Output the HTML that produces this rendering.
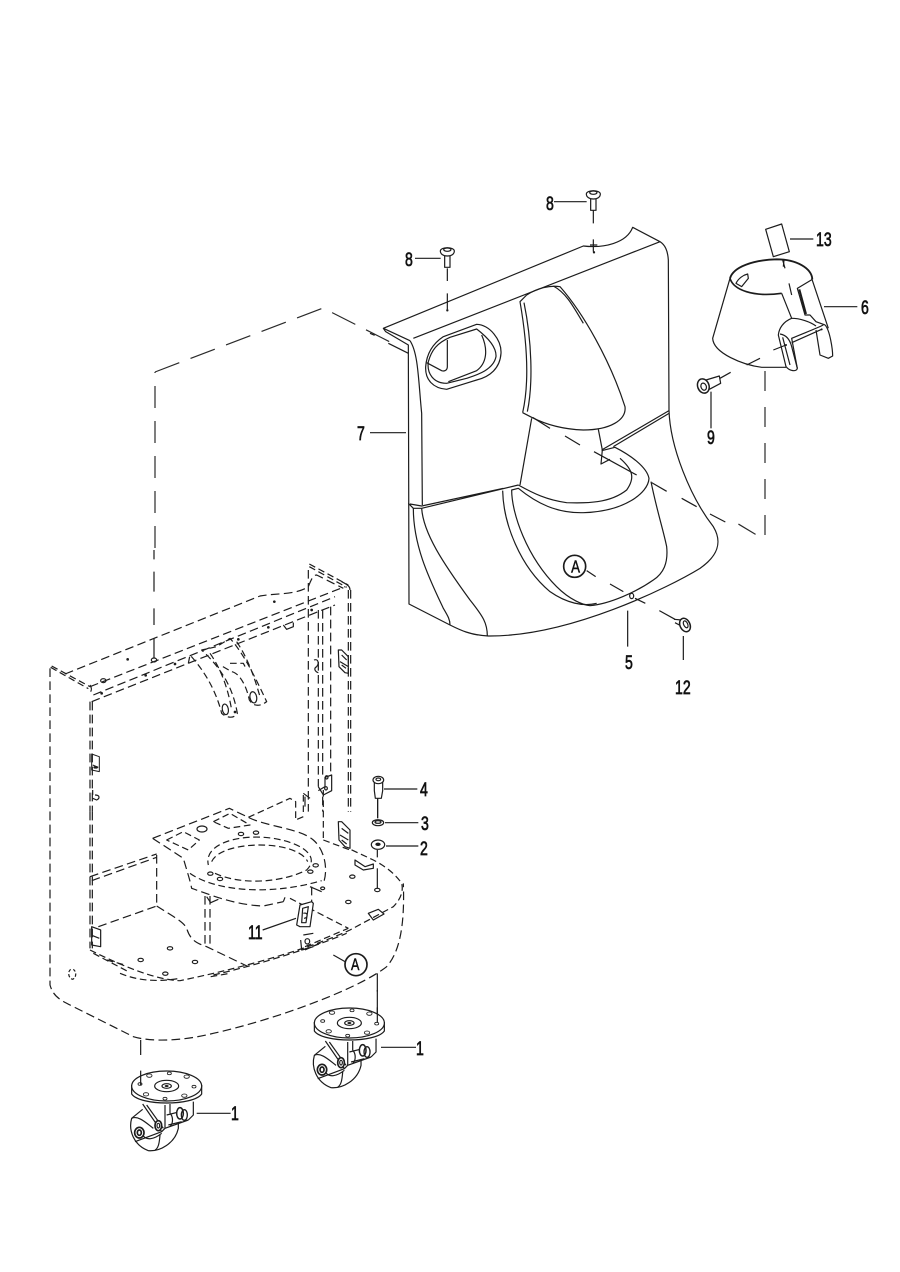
<!DOCTYPE html>
<html><head><meta charset="utf-8"><title>Parts diagram</title>
<style>
html,body{margin:0;padding:0;background:#fff}
svg{display:block}
.z{fill:none;stroke:#1c1c1c;stroke-width:3.6;stroke-linejoin:round;stroke-linecap:butt}
.e{stroke-dasharray:26 13}
.f{stroke-dasharray:20 11}
.w{fill:#fff}
.k{fill:#1c1c1c;stroke:none}
.t{fill:none;stroke:#2a2a2a;stroke-width:1.2}
text{font-family:"Liberation Sans",sans-serif;font-size:19px;fill:#111;stroke:#111;stroke-width:.7}
</style></head><body>
<svg width="900" height="1272" viewBox="0 0 900 1272" xmlns="http://www.w3.org/2000/svg">
<rect width="900" height="1272" fill="#fff"/>

<!-- long phantom line -->
<path class="t" stroke-dasharray="22 13" d="M155,548V372"/>
<path class="t" stroke-dasharray="26 12" d="M155,372L323,308L400,347"/>

<!-- PANEL -->
<g transform="translate(370,180) scale(.33333)">
<path class="z w" d="M40,445L640,198C700,205 770,190 788,142L870,185C885,195 893,210 895,240L897,690C900,800 960,950 1030,1040C1060,1090 1040,1130 990,1165C900,1220 600,1370 355,1368C300,1365 270,1350 240,1335L117,1272L115,495L47,455Z"/>
<path class="z" d="M130,475L870,185M40,445L120,482M120,482C145,520 145,600 155,700L157,975"/>
<path class="z" d="M115,970L130,985L155,985L445,915M120,972L155,978L400,925"/>
<path class="z" d="M695,810L897,692M730,800L897,700"/>
<path class="z" d="M470,345C500,325 540,315 570,320C640,400 720,540 765,680C770,720 720,750 640,750C580,748 530,735 485,712L458,698"/>
<path class="z" d="M470,345L450,365C470,480 480,600 458,698M462,368C485,480 490,610 472,695M550,318C590,340 610,380 640,430"/>
<path class="z" d="M485,715L450,915M685,748L697,810L693,852L720,838"/>
<path class="z" d="M695,812L735,802C780,825 830,860 837,895C835,940 760,995 640,998C560,1000 500,970 445,925L425,930C425,1000 470,1130 560,1220C600,1260 640,1275 660,1277C720,1272 800,1235 850,1200C880,1180 895,1150 890,1100C880,1050 860,990 843,905"/>
<path class="z" d="M750,835C790,870 795,895 770,930C720,970 650,970 590,968C530,960 490,940 445,915"/>
<path class="z" d="M398,932C400,1030 450,1160 540,1235C590,1270 640,1280 680,1270"/>
<path class="z" d="M130,985C130,1100 180,1200 220,1285C235,1310 240,1320 240,1335M155,985C160,1060 220,1150 300,1260C340,1310 352,1330 352,1368"/>
<path class="z" d="M320,433C360,435 395,480 393,520C390,565 360,590 320,600L230,628C190,625 165,600 167,560C170,520 190,490 220,470Z"/>
<path class="z" d="M320,447C350,470 380,500 378,530C370,570 320,585 290,595L230,610C190,610 170,580 175,545C185,510 200,490 240,472Z"/>
<path class="z" d="M335,465C355,510 350,550 320,572L235,605"/>
<path class="z" d="M232,480V560C232,570 225,575 215,572L170,548M55,490L115,520M0,460L14,466"/>
<path class="z" d="M488,712L540,745M585,768L630,795M672,815L800,885M845,908L890,934M935,955L980,980M1020,1002L1066,1026"/>
<path class="z" d="M650,1172L677,1190M720,1212L760,1235M795,1255L826,1270M868,1292L915,1318"/>
<circle class="k" cx="232" cy="391" r="3.5"/><circle class="k" cx="672" cy="217" r="3.5"/>
<path class="z" d="M232,265V303M232,340V388M670,90V130M670,178V215M660,195H682"/>
<ellipse class="z" cx="785" cy="1248" rx="6" ry="8"/>
<path class="z" d="M773,1292V1400M940,1368V1440"/>
<g class="z"><path d="M224,225V262H240V225"/><path class="w" d="M211,213C212,200 252,200 253,213C253,222 245,228 232,228C220,228 211,222 211,213Z"/><ellipse cx="232" cy="209" rx="11" ry="5"/></g>
<g class="z"><path d="M662,54V91H678V54"/><path class="w" d="M649,42C650,29 690,29 691,42C691,51 683,57 670,57C658,57 649,51 649,42Z"/><ellipse cx="670" cy="38" rx="11" ry="5"/></g>
<path class="z" d="M135,235H212M552,65H650"/>
<path class="z" d="M912,1318L935,1320M915,1328L928,1335"/>
<ellipse class="z w" cx="945" cy="1335" rx="15" ry="21" transform="rotate(-25 945 1335)" style="stroke-width:4.5"/>
<ellipse class="z" cx="947" cy="1333" rx="6" ry="11" transform="rotate(-25 947 1333)"/>
<circle class="z" cx="614" cy="1159" r="33" style="stroke-width:5"/>
<text x="599" y="1178" style="font-size:54px;stroke-width:1.5" transform="translate(160 0) scale(.74 1)">A</text>
<path class="z" d="M0,758H108"/>
</g>

<!-- CONE -->
<g transform="translate(680,210) scale(.33333)">
<path class="z" d="M257,58L305,42L328,125L280,140Z"/>
<path class="z" d="M330,87H400"/>
<path class="z" d="M308,150L315,175M432,290H532"/>
<ellipse class="z w" cx="70" cy="528" rx="17" ry="22" transform="rotate(-20 70 528)" style="stroke-width:4.5"/>
<ellipse class="z" cx="71" cy="530" rx="8" ry="11" transform="rotate(-20 71 530)"/>
<path class="z" d="M78,510L118,498L122,520L88,538M120,505L152,487"/>
<path class="z" d="M93,545V655"/>
</g>
<g transform="translate(710,250) scale(.33333)">
<path class="z" d="M60,85C70,50 130,30 200,28C260,28 305,55 307,88" style="stroke-width:5.5"/>
<path class="z" d="M60,85C70,120 130,142 215,130" style="stroke-width:5"/>
<path class="z" d="M60,85L8,265C10,310 100,345 155,352L228,352"/>
<path class="z" d="M215,130L245,205C220,215 207,235 205,255L228,350C240,365 260,365 262,355L245,265C280,250 320,235 340,225"/>
<path class="z" d="M307,88L262,115L285,195H300L318,215L345,225C360,240 368,300 368,318L355,325L330,315L318,240"/>
<path class="z" d="M305,85L355,235"/>
<path class="z" d="M245,205C270,205 300,215 318,228"/>
<path class="z" d="M210,252C230,255 240,270 245,290L262,355M218,262L240,345"/>
<path class="z" style="stroke-width:6" d="M268,118L288,192"/>
<path class="z" d="M78,100C85,85 100,75 113,72L115,85L95,110Z"/>
<path class="z" d="M222,30L220,50M237,100L245,135M190,300L228,285M245,278L335,238M110,345L150,325"/>
<circle class="k" cx="228" cy="285" r="3"/><circle class="k" cx="335" cy="238" r="3"/>
</g>
<path class="t" stroke-dasharray="20 16" d="M765,371V540L725,516"/>

<!-- FRAME UPPER -->
<g transform="translate(40,550) scale(.33333)">
<path class="z e" d="M75,372L660,138C700,130 770,135 805,110C815,85 820,75 830,75L910,115"/>
<path class="z e" d="M150,410L915,110M160,435L885,140M155,455L885,165"/>
<path class="z f" d="M35,348L150,410M32,352L145,416M808,42L925,105M808,50L920,112"/>
<path class="z e" d="M30,355V785M150,455V785M157,455V785M805,60V785M925,120V785M932,120V785M835,180V710M848,180V675M872,170V675M848,740V785"/>
<path class="z" d="M150,405C155,412 155,420 152,425M905,95C925,105 930,110 930,120"/>
<path class="z" d="M342,0V28M342,65V125M342,175V225M342,265V325"/>
<ellipse class="z" cx="342" cy="330" rx="8" ry="6"/>
<ellipse class="z" cx="190" cy="392" rx="8" ry="6"/>
<circle class="k" cx="263" cy="328" r="4"/><circle class="k" cx="317" cy="376" r="4"/><circle class="k" cx="405" cy="342" r="4"/><circle class="k" cx="185" cy="430" r="4"/><circle class="k" cx="703" cy="155" r="4"/><circle class="k" cx="685" cy="232" r="4"/><circle class="k" cx="815" cy="180" r="4"/><circle class="k" cx="595" cy="268" r="4"/><circle class="k" cx="585" cy="486" r="4"/>
<!-- hangers -->
<path class="z f" d="M445,340L450,315C500,370 530,430 545,490C555,500 580,510 592,490C580,420 550,360 485,300L530,290L570,265C610,310 640,370 680,455C660,470 640,470 628,450C620,410 600,370 575,365L540,345"/>
<path class="z f" d="M510,310C545,360 565,420 575,480M590,275C620,320 640,370 660,440M570,340H610L618,355"/>
<ellipse class="z" cx="556" cy="478" rx="9" ry="16" transform="rotate(-10 556 478)"/>
<ellipse class="z" cx="640" cy="442" rx="10" ry="17" transform="rotate(-10 640 442)"/>
<!-- clips -->
<path class="z" d="M895,300H905L925,320V370L915,368L897,350ZM905,315L920,330M900,335L925,350M905,345L918,355"/>
<path class="z" d="M155,612L178,620V665L155,660ZM158,645L175,652" style="stroke-width:3"/>
<ellipse class="k" cx="167" cy="652" rx="7" ry="4"/>
<path class="z" d="M165,735C180,735 180,745 170,750L158,745M158,720V735"/>
<path class="z" d="M730,225L740,238L760,230V218"/>
<path class="z" d="M822,330C835,325 838,340 830,350C820,355 825,365 835,368"/>
<path class="z" d="M835,710L850,735L875,722V675L855,682V710L835,722"/>
<ellipse class="z" cx="860" cy="682" rx="4" ry="5"/><ellipse class="z" cx="858" cy="715" rx="4" ry="5"/>
<path class="z" d="M790,730L810,745M795,740V770"/>
</g>

<!-- FRAME LOWER -->
<g transform="translate(40,770) scale(.33333)">
<path class="z e" d="M30,125V645C40,680 60,690 100,710L280,800C330,815 420,815 520,790C700,750 950,660 1040,590C1075,550 1095,480 1090,340"/>
<path class="z e" d="M150,125V535M157,125V535M350,255V410M150,320L350,252M155,332L350,262M175,470L350,408"/>
<path class="z f" d="M150,540C250,590 350,630 420,632C600,595 800,540 930,480L1060,410C1085,385 1090,360 1085,340C1065,310 1030,285 1000,270L925,235"/>
<path class="z f" d="M160,550L265,605M240,610C300,635 360,635 420,625M520,615C650,585 800,540 920,490M795,530L925,475"/>
<path class="z e" d="M350,408C400,440 430,455 440,475C450,510 470,520 500,530L625,590"/>
<path class="z f" d="M625,142L750,85L767,95V150L795,138M790,75V130M850,60V210M850,210L930,240M750,385L925,475"/>
<!-- base plate (detail coordinates) -->
<g transform="translate(300,60)">
<path class="z e" d="M38,145L268,55L325,82C380,110 480,115 520,150C555,180 565,240 550,280"/>
<path class="z e" d="M38,145L130,205C140,240 150,270 155,295C200,310 280,345 370,348L430,335"/>
<path class="z f" d="M150,250C220,300 380,320 545,272"/>
<path class="z f" d="M225,250C300,285 420,280 500,240C540,200 490,160 400,145C300,130 190,160 205,225"/>
<path class="z f" d="M215,215C230,180 300,165 360,165C430,165 490,185 503,215"/>
<path class="z f" d="M80,150L130,125L178,150L145,180ZM220,95L270,70L330,105L265,115Z"/>
<ellipse class="z" cx="186" cy="117" rx="15" ry="9"/>
<g class="z"><ellipse cx="303" cy="132" rx="8" ry="5"/><ellipse cx="348" cy="128" rx="8" ry="5"/><ellipse cx="211" cy="251" rx="8" ry="5"/><ellipse cx="240" cy="267" rx="8" ry="5"/><ellipse cx="511" cy="245" rx="8" ry="5"/><ellipse cx="527" cy="226" rx="8" ry="5"/><ellipse cx="548" cy="295" rx="6" ry="4"/></g>
<path class="z" d="M200,320L212,338L235,328M510,290L545,305M435,322L430,335"/>
</g>
<path class="z e" d="M495,378V525M510,378V525M815,350V420"/>
<g class="z"><ellipse cx="937" cy="320" rx="8" ry="5"/><ellipse cx="1012" cy="360" rx="8" ry="5"/><ellipse cx="925" cy="396" rx="8" ry="5"/><ellipse cx="390" cy="535" rx="8" ry="5"/><ellipse cx="302" cy="570" rx="8" ry="5"/><ellipse cx="465" cy="576" rx="8" ry="5"/><ellipse cx="376" cy="611" rx="8" ry="5"/></g>
<path class="z" d="M1012,295V355"/>
<path class="z" d="M895,155H905L930,180V235L915,230L897,210ZM905,175L925,190M900,195L925,210M905,210L920,222"/>
<path class="z" d="M155,470L182,480V530L155,525ZM158,497L178,505"/>
<path class="z" d="M945,270L975,290L1000,282V295L970,300L945,285Z"/>
<path class="z" d="M985,430L1015,418L1032,432L1000,450Z"/>
<path class="z f" d="M200,570L255,585M512,620L570,610M795,540L850,515"/>
<path class="z" d="M790,495L820,490M782,510L785,540L820,530"/>
<ellipse class="z" cx="802" cy="514" rx="7" ry="8"/>
<path class="z" d="M92,598C82,605 85,625 98,628C110,622 110,605 100,598" stroke-dasharray="10 6"/>
<path class="z w" d="M780,405L815,395L820,400L810,470L780,470L770,465Z"/>
<path class="z" d="M788,415L805,410L798,458L785,458ZM790,430C805,425 805,445 792,445"/>
<path class="z" d="M668,480L768,445"/>
<!-- stack -->
<path class="z w" d="M1003,30V62L1006,85H1024L1028,62V30Z"/>
<ellipse class="z w" cx="1015" cy="30" rx="16" ry="11"/><ellipse class="z" cx="1015" cy="28" rx="7" ry="4"/>
<path class="z" d="M1032,57H1132"/>
<path class="z" style="stroke-width:4" d="M1013,85V145"/>
<ellipse class="z" cx="1014" cy="158" rx="17" ry="9"/><ellipse class="z" cx="1014" cy="156" rx="9" ry="4"/>
<ellipse class="z" cx="1014" cy="224" rx="20" ry="14"/><ellipse class="k" cx="1014" cy="223" rx="8" ry="5"/>
<path class="z" d="M1035,158H1135M1038,228H1135M1012,240V262"/>
<path class="z" d="M880,555L915,575"/>
<circle class="z w" cx="948" cy="584" r="33" style="stroke-width:5"/>
<path class="z" d="M1012,610V665M1012,712V760"/>
</g>

<!-- CASTERS -->
<defs>
<g id="c">
<path class="z w" d="M68,148L35,175C25,210 40,255 85,272C120,275 165,250 175,205V190"/>
<path class="z" d="M45,245L125,215L135,205L205,180M35,175C55,165 80,190 100,205M70,228C80,240 100,240 125,220M120,225C118,250 115,265 105,270"/>
<path class="z" d="M68,132L125,215M80,135L130,205M135,135V205M220,125V165L205,180M150,132V160"/>
<path class="z" d="M140,165L180,155M145,195L185,185M150,160C160,170 160,190 150,200"/>
<ellipse class="z w" cx="58" cy="218" rx="14" ry="16" style="stroke-width:5"/><ellipse class="z" cx="58" cy="218" rx="6" ry="8" style="stroke-width:5"/>
<ellipse class="z w" cx="115" cy="197" rx="10" ry="15" style="stroke-width:5"/><ellipse class="z" cx="115" cy="197" rx="4" ry="7"/>
<ellipse class="z w" cx="180" cy="160" rx="10" ry="17" style="stroke-width:4.5"/><ellipse class="z" cx="193" cy="165" rx="9" ry="16" style="stroke-width:4"/>
<path class="z w" d="M35,75V102C60,138 220,138 245,102V75"/>
<ellipse class="z w" cx="140" cy="78" rx="105" ry="45"/>
<ellipse class="z" cx="140" cy="78" rx="36" ry="17"/><ellipse class="z" cx="140" cy="78" rx="14" ry="7"/><ellipse class="k" cx="140" cy="78" rx="6" ry="3"/>
<g class="z" style="stroke-width:2.6"><ellipse cx="88" cy="47" rx="8" ry="5"/><ellipse cx="148" cy="40" rx="6" ry="4"/><ellipse cx="200" cy="50" rx="8" ry="5"/><ellipse cx="222" cy="80" rx="6" ry="4"/><ellipse cx="193" cy="107" rx="8" ry="5"/><ellipse cx="135" cy="116" rx="6" ry="4"/><ellipse cx="78" cy="103" rx="8" ry="5"/><ellipse cx="60" cy="72" rx="6" ry="4"/></g>
</g>
</defs>
<g transform="translate(120,1060) scale(.33333)"><use href="#c"/></g>
<g transform="translate(302.7,997) scale(.33333)"><use href="#c"/></g>
<g transform="translate(110,990) scale(.33333)">
<path class="z" d="M92,150V195M92,242V285M802,0V98M260,370H362M813,172H918"/>
</g>

<!-- LABELS -->
<g>
<text transform="translate(405,266) scale(.74,1)">8</text>
<text transform="translate(546,210) scale(.74,1)">8</text>
<text transform="translate(816,246) scale(.74,1)">13</text>
<text transform="translate(861,314) scale(.74,1)">6</text>
<text transform="translate(707,444) scale(.74,1)">9</text>
<text transform="translate(357,440) scale(.74,1)">7</text>
<text transform="translate(625,669) scale(.74,1)">5</text>
<text transform="translate(675,694) scale(.74,1)">12</text>
<text transform="translate(420,796) scale(.74,1)">4</text>
<text transform="translate(421,830) scale(.74,1)">3</text>
<text transform="translate(420,855) scale(.74,1)">2</text>
<text transform="translate(248,939) scale(.74,1)">11</text>
<text transform="translate(416,1055) scale(.74,1)">1</text>
<text transform="translate(231,1120) scale(.74,1)">1</text>
<text transform="translate(351,970) scale(.74,1)" style="font-size:17px;stroke-width:.5">A</text>
</g>
</svg>
</body></html>
